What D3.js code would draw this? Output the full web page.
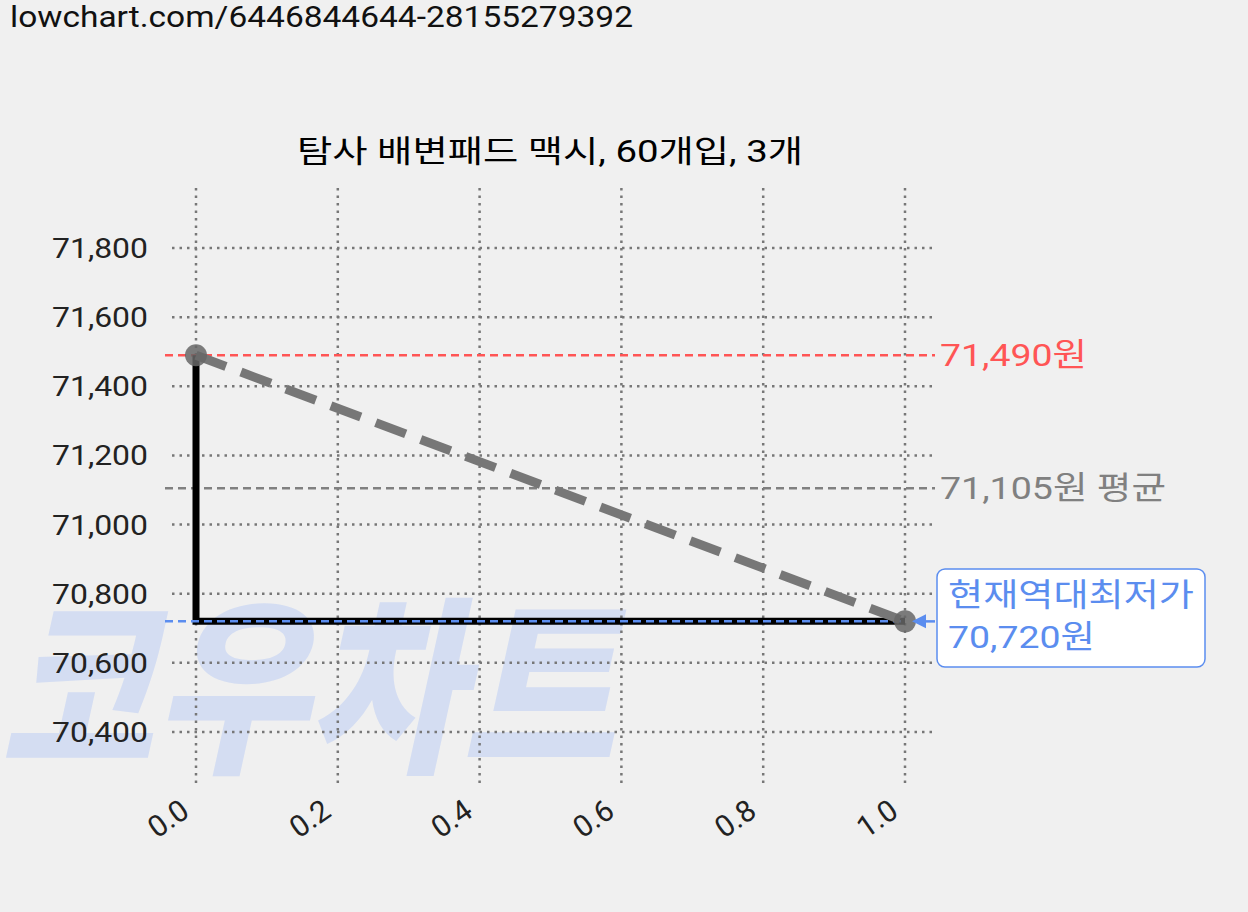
<!DOCTYPE html><html><head><meta charset="utf-8">
<script src="https://cdn.jsdelivr.net/npm/d3@7"></script>
<style>body{margin:0;background:#f0f0f0}svg{font-family:Roboto,"Noto Sans CJK KR",sans-serif}</style></head><body>
<svg id="c" width="1248" height="912"></svg>
<script>
const title="탐사 배변패드 맥시, 60개입, 3개";
const xs=[0,1];
const prices=[71490,70720];
const maxP=71490, avgP=71105, minP=70720;
const yTicks=[70400,70600,70800,71000,71200,71400,71600,71800];
const xTicks=[0,0.2,0.4,0.6,0.8,1.0];
const svg=d3.select("#c");
const x=d3.scaleLinear().domain([0,1]).range([196,905]);
const y=d3.scaleLinear().domain([70400,71800]).range([732,248]);
const T=(px,py,s,txt,len,fill)=>{const t=svg.append("text").attr("x",px).attr("y",py).attr("font-size",s).attr("fill",fill||"#000").text(txt);if(len)t.attr("textLength",len).attr("lengthAdjust","spacingAndGlyphs");return t;};
T(10,27,30,"lowchart.com/6446844644-28155279392",623,"#111");
T(0,758,190,"코우차트",615,"#d4ddf2").attr("font-weight",900).attr("font-style","italic");
T(297,162,31,title,506);
const g=svg.append("g");
yTicks.forEach(t=>{g.append("line").attr("x1",172).attr("x2",935).attr("y1",y(t)).attr("y2",y(t)).attr("stroke","#777").attr("stroke-width",2.5).attr("stroke-dasharray","2.5,5");
 T(52,y(t)+10,28,d3.format(",")(t),96,"#222");});
xTicks.forEach(t=>{g.append("line").attr("x1",x(t)).attr("x2",x(t)).attr("y1",188).attr("y2",785).attr("stroke","#777").attr("stroke-width",2.5).attr("stroke-dasharray","2.5,5");
 svg.append("text").attr("transform",`translate(${x(t)-5},${815}) rotate(-35)`).attr("text-anchor","end").attr("font-size",30).attr("fill","#222").text(t.toFixed(1));});
const hl=(v,c,x2)=>svg.append("line").attr("x1",165).attr("x2",x2).attr("y1",y(v)).attr("y2",y(v)).attr("stroke",c).attr("stroke-width",2.5).attr("stroke-dasharray","8,5");
hl(maxP,"#ff5555",935);hl(avgP,"#808080",935);
T(940,y(maxP)+11,32,"71,490원",147,"#ff5555");
T(940,y(avgP)+11,32,"71,105원 평균",226,"#808080");
svg.append("path").attr("d",`M${x(0)},${y(prices[0])}V${y(prices[1])}H${x(1)}`).attr("fill","none").attr("stroke","#000").attr("stroke-width",7);
hl(minP,"#5b8def",905);
svg.append("line").attr("x1",x(0)).attr("y1",y(prices[0])).attr("x2",x(1)).attr("y2",y(prices[1])).attr("stroke","#777").attr("stroke-width",9).attr("stroke-dasharray","32,16");
xs.forEach((d,i)=>svg.append("circle").attr("cx",x(d)).attr("cy",y(prices[i])).attr("r",11).attr("fill","#666").attr("opacity",0.85));
svg.append("line").attr("x1",935).attr("x2",915).attr("y1",y(minP)).attr("y2",y(minP)).attr("stroke","#5b8def").attr("stroke-width",2.5);
svg.append("path").attr("d",`M912,${y(minP)}l14,-7v14z`).attr("fill","#5b8def");
svg.append("rect").attr("x",937).attr("y",569).attr("width",268).attr("height",98).attr("rx",8).attr("fill","#fff").attr("stroke","#5b8def").attr("stroke-width",1.5);
T(948,606,32,"현재역대최저가",246,"#5b8def");
T(948,648,32,"70,720원",147,"#5b8def");
</script></body></html>
